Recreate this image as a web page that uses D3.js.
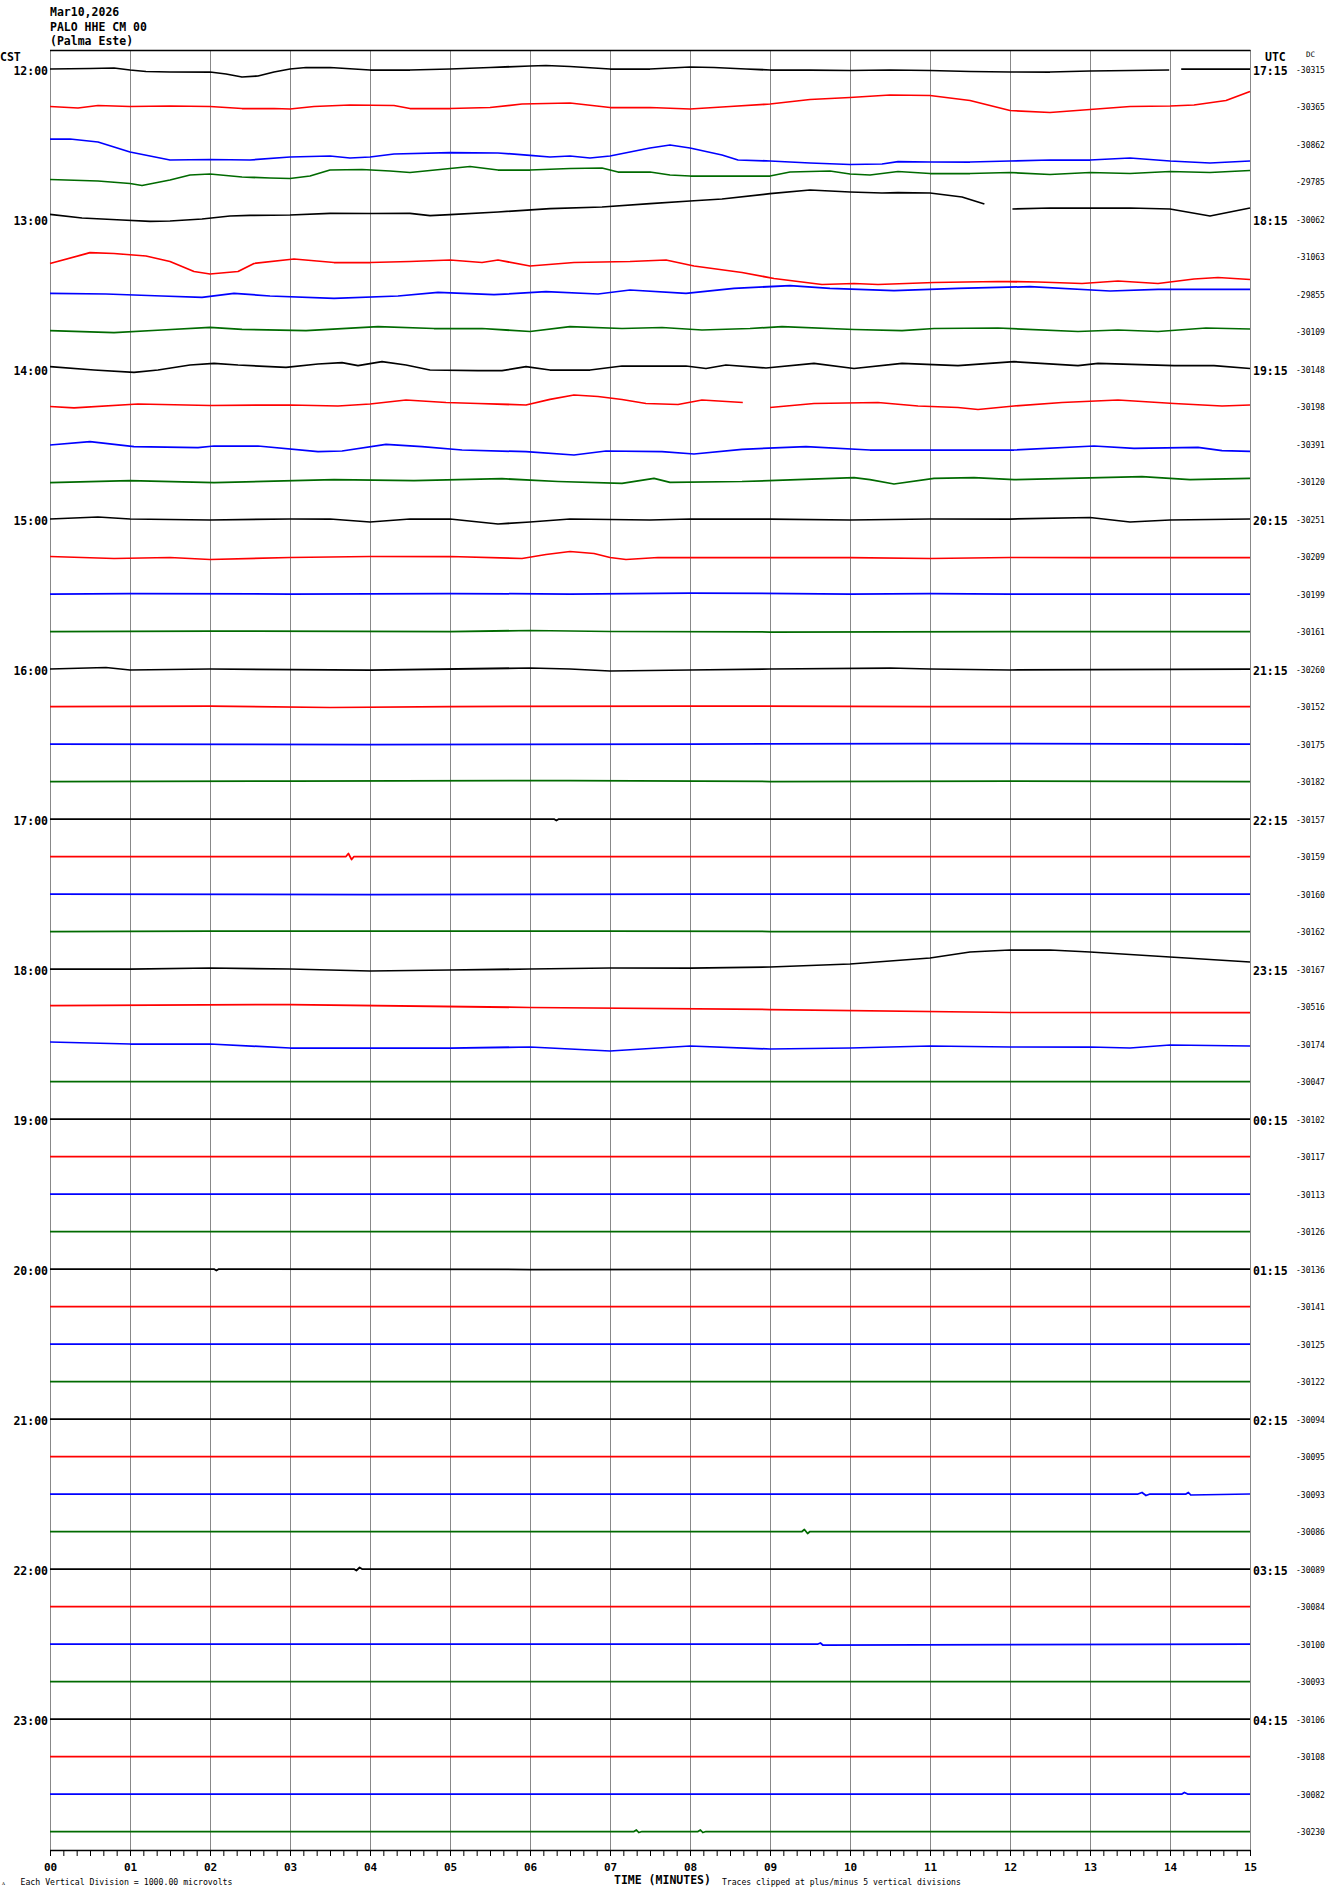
<!DOCTYPE html>
<html><head><meta charset="utf-8">
<script src="https://cdn.jsdelivr.net/npm/d3@7"></script>
<style>body{margin:0;background:#fff}svg{display:block}</style>
</head><body><svg id="c" width="1330" height="1894"></svg>
<script>
// ---------------- DATA ----------------
const headerLines = ["Mar10,2026", "PALO HHE CM 00", "(Palma Este)"];
const cstLabels = ["12:00","13:00","14:00","15:00","16:00","17:00","18:00","19:00","20:00","21:00","22:00","23:00"];
const utcLabels = ["17:15","18:15","19:15","20:15","21:15","22:15","23:15","00:15","01:15","02:15","03:15","04:15"];
const minuteLabels = ["00","01","02","03","04","05","06","07","08","09","10","11","12","13","14","15"];
const dcValues = [-30315,-30365,-30862,-29785,-30062,-31063,-29855,-30109,-30148,-30198,-30391,-30120,
  -30251,-30209,-30199,-30161,-30260,-30152,-30175,-30182,-30157,-30159,-30160,-30162,
  -30167,-30516,-30174,-30047,-30102,-30117,-30113,-30126,-30136,-30141,-30125,-30122,
  -30094,-30095,-30093,-30086,-30089,-30084,-30100,-30093,-30106,-30108,-30082,-30230];
// each trace: [minute, deviation] keyframes (deviation: + up); null = data gap
const traceShapes = [
 [[0,0],[0.5,0.5],[0.8,1],[1,-1],[1.2,-2.5],[1.5,-3],[2,-3],[2.2,-5],[2.4,-8],[2.6,-7],[2.8,-3],[3,0],[3.2,1.5],[3.5,1.5],[4,-1],[4.5,-1],[5,0],[5.5,1.5],[6,3],[6.2,3.5],[6.5,2.5],[7,0],[7.5,0],[8,2],[8.3,1.5],[8.7,0],[9,-1],[9.5,-1],[10,-1.5],[10.5,-1],[11,-1.5],[11.5,-2.5],[12,-3],[12.5,-3],[13,-2],[13.5,-1.5],[13.99,-1],[14,null],[14.14,0],[14.5,0],[15,0]],
 [[0,0],[0.35,-1.5],[0.6,1],[1,0],[1.5,0.5],[2,0],[2.4,-2],[2.8,-2],[3,-2.5],[3.3,0],[3.75,1.5],[4.3,1],[4.5,-2],[5,-2],[5.5,-1],[5.9,2.5],[6.5,3.5],[7,-1],[7.5,-1],[8,-2.5],[8.5,0],[9,2.5],[9.5,7],[10,9],[10.5,11.5],[11,11],[11.5,6],[12,-4],[12.5,-6],[13,-3],[13.5,0],[14,0.5],[14.3,1.5],[14.7,6],[15,15]],
 [[0,5],[0.25,5],[0.6,2],[1,-8],[1.5,-16],[2,-15.5],[2.5,-16],[3,-13],[3.5,-12],[3.75,-14],[4,-13],[4.3,-10],[5,-8.7],[5.6,-9],[6,-11.3],[6.25,-13],[6.5,-12],[6.75,-14],[7,-12],[7.5,-4],[7.75,-1],[8,-4],[8.4,-11],[8.6,-16],[9,-17],[9.5,-19],[10,-20.5],[10.4,-20],[10.6,-17.7],[11,-18],[11.5,-18],[12,-17],[12.5,-16],[13,-16],[13.5,-14],[14,-17],[14.5,-19],[15,-17]],
 [[0,2],[0.6,0.5],[1,-2],[1.15,-4],[1.5,1.5],[1.75,6.5],[2,7.5],[2.4,4.5],[2.75,3.5],[3,3],[3.25,5.5],[3.5,11.5],[3.9,12],[4.25,10.5],[4.5,9],[5,13],[5.25,15],[5.6,11.5],[6,11.5],[6.5,13],[6.9,13.5],[7.1,9.5],[7.5,9.5],[7.75,6.5],[8,5.5],[8.5,5.5],[9,5.5],[9.25,9.5],[9.75,10.5],[10,7.5],[10.25,6.5],[10.6,10],[11,8],[11.5,8],[12,9],[12.5,7],[13,9],[13.5,8],[14,10],[14.5,9],[15,11]],
 [[0,4.7],[0.4,1],[0.9,-1],[1.25,-2.3],[1.5,-2],[1.9,0],[2.25,3],[2.5,3.7],[3,4],[3.5,5.7],[4,5.5],[4.5,5.7],[4.75,3.3],[5,4.3],[5.6,7],[6.25,10.3],[6.9,12],[7.5,15.3],[8,18],[8.4,20],[9,25.3],[9.5,29],[10,27],[10.4,26],[10.6,26.3],[11,26],[11.4,22],[11.68,15],[11.7,null],[12.03,10],[12.5,11],[13,11],[13.5,11],[14,10],[14.5,3],[15,11]],
 [[0,-7],[0.5,3.8],[0.8,3],[1.2,0.5],[1.5,-5],[1.8,-15],[2,-17.5],[2.35,-15],[2.55,-7],[3.05,-2.5],[3.55,-6],[4,-6],[4.5,-5],[5,-3.5],[5.4,-6],[5.6,-3.5],[6,-9.5],[6.55,-6],[7.25,-5],[7.7,-3.5],[8.05,-9.5],[8.65,-16],[9.05,-22],[9.65,-28],[10.05,-27],[10.35,-28],[11.05,-26],[11.85,-25],[12.35,-25.5],[12.9,-27],[13.35,-24.5],[13.85,-27],[14.3,-22.5],[14.6,-21],[15,-23]],
 [[0,0.7],[0.7,0],[1.4,-2],[1.9,-3.3],[2.3,0.7],[2.75,-2],[3.55,-4.3],[4.35,-2],[4.85,1.7],[5.55,-0.7],[6.2,2.3],[6.85,0],[7.25,4],[7.95,0.7],[8.55,5.7],[9.25,8.3],[9.75,5.7],[10.55,3.3],[11.35,5.7],[12.25,7.3],[13.25,3],[13.85,4.7],[15,4.7]],
 [[0,0.8],[0.8,-1.2],[1.4,1.5],[2,4.2],[2.4,2.2],[3.2,0.8],[4.1,4.8],[4.8,3],[5.4,3],[6,0],[6.5,4.8],[7.15,3],[7.65,4],[8.15,1.5],[8.75,3],[9.15,4.8],[10.05,2],[10.65,0.8],[11.05,3],[11.85,3.5],[12.85,0],[13.35,1.5],[13.85,0],[14.45,3.5],[15,2.5]],
 [[0,2.3],[0.55,-1],[1.05,-3.3],[1.35,-1],[1.75,4],[2.05,5.7],[2.35,4],[2.95,1.7],[3.35,5],[3.65,6.3],[3.85,3.3],[4.15,7.3],[4.45,4],[4.75,-1],[5.35,-1.7],[5.65,-1.7],[5.95,2.3],[6.25,-1],[6.75,-1],[7.15,3],[7.95,3],[8.2,0.5],[8.45,4],[8.95,1],[9.55,5.7],[10.05,0.5],[10.65,5.7],[11.35,3.3],[12.05,7.3],[12.85,3.3],[13.1,5.7],[14.05,3.3],[14.55,3.3],[15,0.5]],
 [[0,0],[0.3,-1.3],[1.1,2.5],[2,1],[3,1.5],[3.6,0.5],[4,2.5],[4.45,6.5],[4.95,4],[5.35,3],[5.95,1.5],[6.25,7.2],[6.55,11.5],[6.85,10],[7.15,7],[7.45,3],[7.85,2],[8.15,6.5],[8.66,4],[8.7,null],[9,-1],[9.55,3],[10.35,4],[10.85,0.5],[11.35,-1],[11.6,-3],[12.05,0.5],[12.65,4],[13.35,6.5],[14.05,3],[14.65,0.5],[15,1.5]],
 [[0,-1],[0.5,2.3],[1.05,-2.7],[1.85,-3.7],[2.05,-2],[2.6,-2],[3.35,-7.7],[3.65,-7],[4.2,-0.3],[4.65,-2.7],[5.15,-6],[5.95,-7.7],[6.55,-11],[6.95,-7],[7.65,-7.7],[8.05,-10],[8.65,-5.3],[9.45,-2.7],[10.25,-6],[11.05,-6],[12.05,-6],[13.05,-2],[13.55,-4.3],[14.35,-3.3],[14.65,-6.7],[15,-7.3]],
 [[0,-1.2],[1,0.8],[2.05,-1.2],[3.55,1.8],[4.55,0.8],[5.65,2.8],[6.35,0],[7.15,-1.8],[7.55,3.2],[7.75,-0.8],[8.65,0],[10.05,3.8],[10.25,1.8],[10.55,-2.5],[11.05,3.2],[11.55,3.8],[12.05,1.8],[13.65,4.8],[14.25,1.8],[15,3.2]],
 [[0,0],[0.6,2],[1,0],[2,-1],[3,0],[3.5,0],[4,-3],[4.5,0],[5,0],[5.6,-5],[6,-3],[6.5,0],[7.5,-1],[8,0],[9,0],[10,-1],[11,0],[12,0],[13,1.5],[13.5,-3],[14,-1],[15,0]],
 [[0,0],[0.8,-2],[1.5,-1],[2,-3],[3,-1],[4,0],[5,0],[5.9,-2],[6.2,2],[6.5,5],[6.8,3],[7,-1],[7.2,-3],[7.6,-1],[8,-1],[9,-1],[10,-1],[11,-2],[12,-1],[13,-1],[14,-1],[15,-1]],
 [[0,0],[1,0.5],[3,0],[5,0.5],[6.5,0],[8,1],[10,0],[11,0.5],[12,0],[15,0]],
 [[0,0],[2,0.5],[5,0],[6,1],[7,0],[9,-0.5],[12,0],[15,0]],
 [[0,0],[0.7,1.5],[1,-1],[2,0],[4,-1],[6,1],[6.5,0],[7,-2],[8,-1],[9,0],[10.5,1],[11,0],[12,-1],[15,0]],
 [[0,0],[2,0.5],[3.5,-1],[5,0],[8,0.5],[11,0],[15,0]],
 [[0,0],[4,-0.5],[8,0],[11,0.5],[15,0]],
 [[0,0],[3,0.5],[6.5,1],[9,0],[12,0.5],[15,0]],
 [[0,0],[6.3,0],[6.33,-1.5],[6.36,0],[15,0]],
 [[0,0],[3.7,0],[3.73,3],[3.77,-3],[3.8,0],[15,0]],
 [[0,0],[4,-0.5],[8,0],[15,0]],
 [[0,0],[2,0.5],[7,0.5],[9,0],[15,0]],
 [[0,0],[1,0],[2,1],[3,0],[4,-2],[5,-1],[6,0],[7,1],[8,1],[9,2],[10,5],[11,11],[11.5,17],[12,19],[12.5,19],[13,17],[14,12],[15,7]],
 [[0,1],[3,2],[6,-1],[9,-3],[12,-6],[15,-6]],
 [[0,2],[1,0],[2,0],[3,-4],[5,-4],[6,-3],[7,-7],[8,-2],[9,-5],[10,-4],[11,-2],[12,-3],[13,-3],[13.5,-4],[14,-1],[15,-2]],
 [[0,0],[15,0]],
 [[0,0],[15,0]],
 [[0,0],[15,0]],
 [[0,0],[15,0]],
 [[0,0],[15,0]],
 [[0,0],[2.05,0],[2.08,-1.5],[2.11,0],[6,-0.5],[15,0]],
 [[0,0],[15,0]],
 [[0,0],[15,0]],
 [[0,0],[15,0]],
 [[0,0],[15,0]],
 [[0,0],[15,0]],
 [[0,0],[13.6,0],[13.65,1.5],[13.7,-1.5],[13.75,0],[14.2,0],[14.23,1.5],[14.26,-1],[15,0]],
 [[0,0],[9.4,0],[9.43,2],[9.47,-2],[9.5,0],[15,0]],
 [[0,0],[3.8,0],[3.83,-1.5],[3.87,1.5],[3.9,0],[15,0]],
 [[0,0],[15,0]],
 [[0,0],[9.6,0],[9.63,1],[9.66,-1],[15,0]],
 [[0,0],[15,0]],
 [[0,0],[15,0]],
 [[0,0],[15,0]],
 [[0,0],[14.15,0],[14.18,1.5],[14.22,0],[15,0]],
 [[0,0],[7.3,0],[7.33,1.5],[7.36,-1],[7.4,0],[8.1,0],[8.13,1.5],[8.16,-1],[8.2,0],[15,0]]
];

// ---------------- DRAW ----------------
const svg = d3.select("#c");
const mono = "'DejaVu Sans Mono', monospace";
const colors = ["#000000","#ff0000","#0000ff","#006a00"];
const x = d3.scaleLinear().domain([0,15]).range([50,1250]);
const row = d3.scaleLinear().domain([0,47]).range([69,1831.5]);
const amp = d3.scaleLinear().domain([-10,10]).range([10,-10]);

// header
svg.selectAll("text.hdr").data(headerLines).join("text")
  .attr("x",50).attr("y",(d,i)=>16+i*14.5)
  .attr("font-family",mono).attr("font-size",11.5).attr("font-weight","bold").text(d=>d);

// gridlines
svg.append("g").selectAll("line").data(d3.range(0,16)).join("line")
  .attr("x1",d=>x(d)+0.5).attr("x2",d=>x(d)+0.5).attr("y1",50).attr("y2",1850)
  .attr("stroke","#888").attr("stroke-width",1);
// top border
svg.append("line").attr("x1",50).attr("x2",1250.5).attr("y1",50.5).attr("y2",50.5).attr("stroke","#000").attr("stroke-width",1.3);
// bottom axis
svg.append("line").attr("x1",50).attr("x2",1250.5).attr("y1",1850.5).attr("y2",1850.5).attr("stroke","#000").attr("stroke-width",1.3);
svg.append("g").selectAll("line").data(d3.range(0,91)).join("line")
  .attr("x1",d=>x(d/6)+0.5).attr("x2",d=>x(d/6)+0.5).attr("y1",1850).attr("y2",1856)
  .attr("stroke","#000").attr("stroke-width",1);
svg.append("g").selectAll("text").data(minuteLabels).join("text")
  .attr("x",(d,i)=>x(i)+0.5).attr("y",1871).attr("text-anchor","middle")
  .attr("font-family",mono).attr("font-size",11).attr("font-weight","bold").text(d=>d);

// traces
const line = d3.line().defined(d=>d[1]!==null).x(d=>x(d[0]));
const gT = svg.append("g").attr("fill","none").attr("stroke-width",1.75).attr("stroke-linejoin","round");
traceShapes.forEach((pts,i)=>{
  const base = row(i);
  gT.append("path").attr("stroke",colors[i%4])
    .attr("d", line.y(d=>base+amp(d[1]))(pts));
});

// left labels
svg.append("text").attr("x",0).attr("y",60.5).attr("font-family",mono).attr("font-size",11.5).attr("font-weight","bold").text("CST");
svg.append("g").selectAll("text").data(cstLabels).join("text")
  .attr("x",48).attr("y",(d,i)=>row(i*4)+5.5).attr("text-anchor","end")
  .attr("font-family",mono).attr("font-size",11.5).attr("font-weight","bold").text(d=>d);
// right labels
svg.append("text").attr("x",1265).attr("y",60.5).attr("font-family",mono).attr("font-size",11.5).attr("font-weight","bold").text("UTC");
svg.append("text").attr("x",1306).attr("y",56.5).attr("font-family",mono).attr("font-size",7.5).text("DC");
svg.append("g").selectAll("text").data(utcLabels).join("text")
  .attr("x",1253).attr("y",(d,i)=>row(i*4)+5.5)
  .attr("font-family",mono).attr("font-size",11.5).attr("font-weight","bold").text(d=>d);
svg.append("g").selectAll("text").data(dcValues).join("text")
  .attr("x",1296).attr("y",(d,i)=>row(i)+3.5)
  .attr("font-family",mono).attr("font-size",8).text(d=>"-"+Math.abs(d));

// footer
svg.append("text").attr("x",2).attr("y",1885).attr("font-family",mono).attr("font-size",6).text("ᴧ");
svg.append("text").attr("x",20.5).attr("y",1884.5).attr("font-family",mono).attr("font-size",8.2).text("Each Vertical Division = 1000.00 microvolts");
svg.append("text").attr("x",614).attr("y",1883.5).attr("font-family",mono).attr("font-size",11.5).attr("font-weight","bold").text("TIME (MINUTES)");
svg.append("text").attr("x",722).attr("y",1884.5).attr("font-family",mono).attr("font-size",8.1).text("Traces clipped at plus/minus 5 vertical divisions");
</script></body></html>
